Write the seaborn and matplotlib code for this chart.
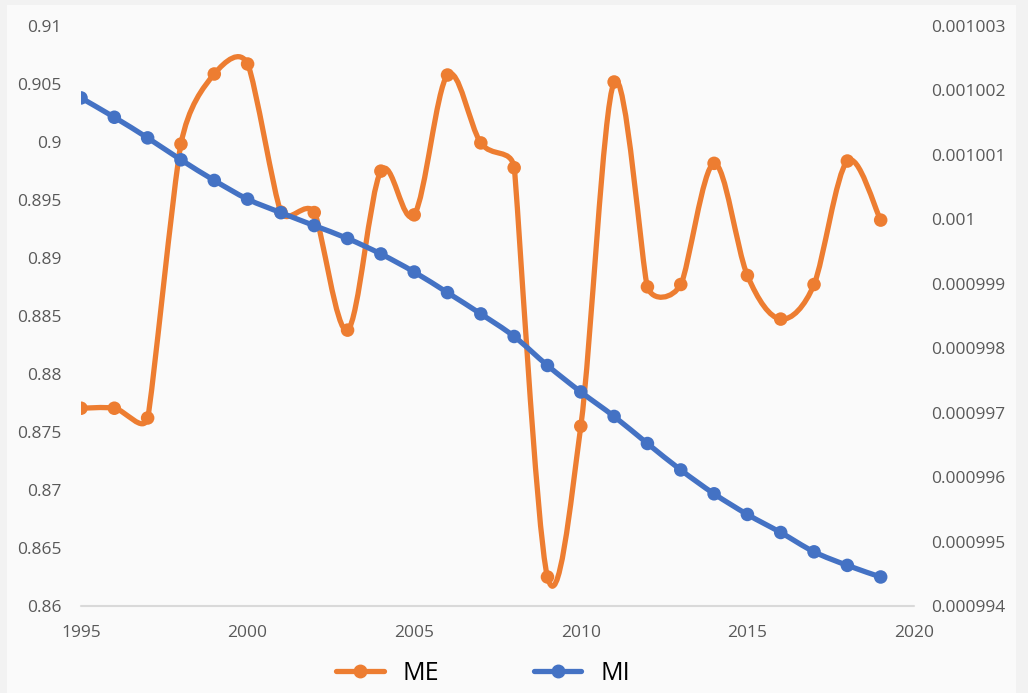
import numpy as np
import matplotlib
matplotlib.use("Agg")
import matplotlib.pyplot as plt
import seaborn as sns
import pandas as pd
from matplotlib.path import Path
from matplotlib.patches import PathPatch, Rectangle
from matplotlib.lines import Line2D

years = list(range(1995, 2020))
me_values = [0.87704, 0.87704, 0.8762, 0.8998, 0.90584, 0.9067, 0.89394, 0.8939,
             0.88377, 0.89747, 0.8937, 0.90575, 0.8999, 0.89776, 0.8625, 0.87549,
             0.90515, 0.8875, 0.8877, 0.89814, 0.88848, 0.88472, 0.8877, 0.89834, 0.89325]
mi_values = [0.00100188, 0.00100158, 0.00100126, 0.00100092, 0.00100060, 0.00100031,
             0.00100010, 0.00099990, 0.00099970, 0.00099946, 0.00099918, 0.00099886,
             0.00099853, 0.00099818, 0.00099773, 0.00099732, 0.00099694, 0.00099652,
             0.00099611, 0.00099574, 0.00099542, 0.00099514, 0.00099484, 0.00099463,
             0.00099445]
left_ticks = [0.86, 0.865, 0.87, 0.875, 0.88, 0.885, 0.89, 0.895, 0.9, 0.905, 0.91]
left_labels = ["0.86", "0.865", "0.87", "0.875", "0.88", "0.885", "0.89", "0.895", "0.9", "0.905", "0.91"]
right_ticks = [0.000994, 0.000995, 0.000996, 0.000997, 0.000998, 0.000999, 0.001,
               0.001001, 0.001002, 0.001003]
right_labels = ["0.000994", "0.000995", "0.000996", "0.000997", "0.000998", "0.000999",
                "0.001", "0.001001", "0.001002", "0.001003"]
x_ticks = [1995, 2000, 2005, 2010, 2015, 2020]

ORANGE = "#ED7D31"
BLUE = "#4472C4"
TXT = "#595959"
LW = 3.8

df = pd.DataFrame({"year": years, "ME": me_values, "MI": mi_values})

sns.set_theme(style="white")
plt.rcParams["font.family"] = ["Open Sans", "DejaVu Sans"]

fig = plt.figure(figsize=(10.28, 6.93), dpi=100)
fig.patch.set_facecolor("#F2F2F2")
fig.patches.append(Rectangle((7 / 1028, 0), (1016 - 7) / 1028, 1 - 5 / 693,
                             transform=fig.transFigure, facecolor="#FAFAFA",
                             edgecolor="none", zorder=-10))

ax = fig.add_axes([81 / 1028, 1 - 606 / 693, (914 - 81) / 1028, (606 - 25.7) / 693])
ax2 = ax.twinx()
for a in (ax, ax2):
    a.set_facecolor("none")
    for s in a.spines.values():
        s.set_visible(False)

ax.set_xlim(1995, 2020)
ax.set_ylim(0.86, 0.91)
ax2.set_ylim(0.000994, 0.001003)


def smooth_path(axis, xs, ys):
    """Excel-like smoothed line: Bezier segments, tangents clamped in screen space."""
    pts = axis.transData.transform(np.column_stack([xs, ys]).astype(float))
    n = len(pts)
    tang = np.zeros_like(pts)
    for i in range(n):
        p0 = pts[max(i - 1, 0)]
        p2 = pts[min(i + 1, n - 1)]
        p1 = pts[i]
        d02 = np.hypot(*(p2 - p0))
        if d02 == 0:
            continue
        d01 = np.hypot(*(p1 - p0))
        d12 = np.hypot(*(p2 - p1))
        f = 1 / 6
        if 0 < i < n - 1:
            f = min(f, d01 / (2 * d02), d12 / (2 * d02))
        tang[i] = (p2 - p0) * f
    verts = [pts[0]]
    codes = [Path.MOVETO]
    for i in range(n - 1):
        verts += [pts[i] + tang[i], pts[i + 1] - tang[i + 1], pts[i + 1]]
        codes += [Path.CURVE4] * 3
    verts = axis.transData.inverted().transform(np.array(verts))
    return Path(verts, codes)


ax.add_patch(PathPatch(smooth_path(ax, df["year"], df["ME"]), facecolor="none",
                       edgecolor=ORANGE, lw=LW, capstyle="round", joinstyle="round", zorder=3))
sns.scatterplot(data=df, x="year", y="ME", ax=ax, color=ORANGE, s=95,
                edgecolor="none", zorder=4, legend=False)

ax2.add_patch(PathPatch(smooth_path(ax2, df["year"], df["MI"]), facecolor="none",
                        edgecolor=BLUE, lw=LW, capstyle="round", joinstyle="round", zorder=3))
sns.scatterplot(data=df, x="year", y="MI", ax=ax2, color=BLUE, s=95,
                edgecolor="none", zorder=4, legend=False)

ax.set_xlim(1995, 2020)
ax.set_ylim(0.86, 0.91)
ax2.set_ylim(0.000994, 0.001003)
ax.set_xticks(x_ticks)
ax.set_xticklabels([str(t) for t in x_ticks])
ax.set_yticks(left_ticks)
ax.set_yticklabels(left_labels)
ax2.set_yticks(right_ticks)
ax2.set_yticklabels(right_labels)
ax.set_xlabel("")
ax.set_ylabel("")
ax2.set_ylabel("")
ax.tick_params(axis="x", length=0, pad=14, labelsize=12.5, labelcolor=TXT)
ax.tick_params(axis="y", length=0, pad=14, labelsize=12.5, labelcolor=TXT)
ax2.tick_params(axis="y", length=0, pad=12, labelsize=12.5, labelcolor=TXT)
ax.axhline(0.86, color="#D9D9D9", lw=1.5, zorder=1, clip_on=False)

handles = [Line2D([0], [0], color=ORANGE, lw=LW, marker="o", markersize=9),
           Line2D([0], [0], color=BLUE, lw=LW, marker="o", markersize=9)]
fig.legend(handles, ["ME", "MI"], loc="center", bbox_to_anchor=(483 / 1028, 1 - 673 / 693),
           ncol=2, frameon=False, fontsize=18, handlelength=1.9, columnspacing=3.8,
           handletextpad=0.75, labelcolor="#000000")

fig.savefig("out.png", dpi=100, facecolor=fig.get_facecolor())
